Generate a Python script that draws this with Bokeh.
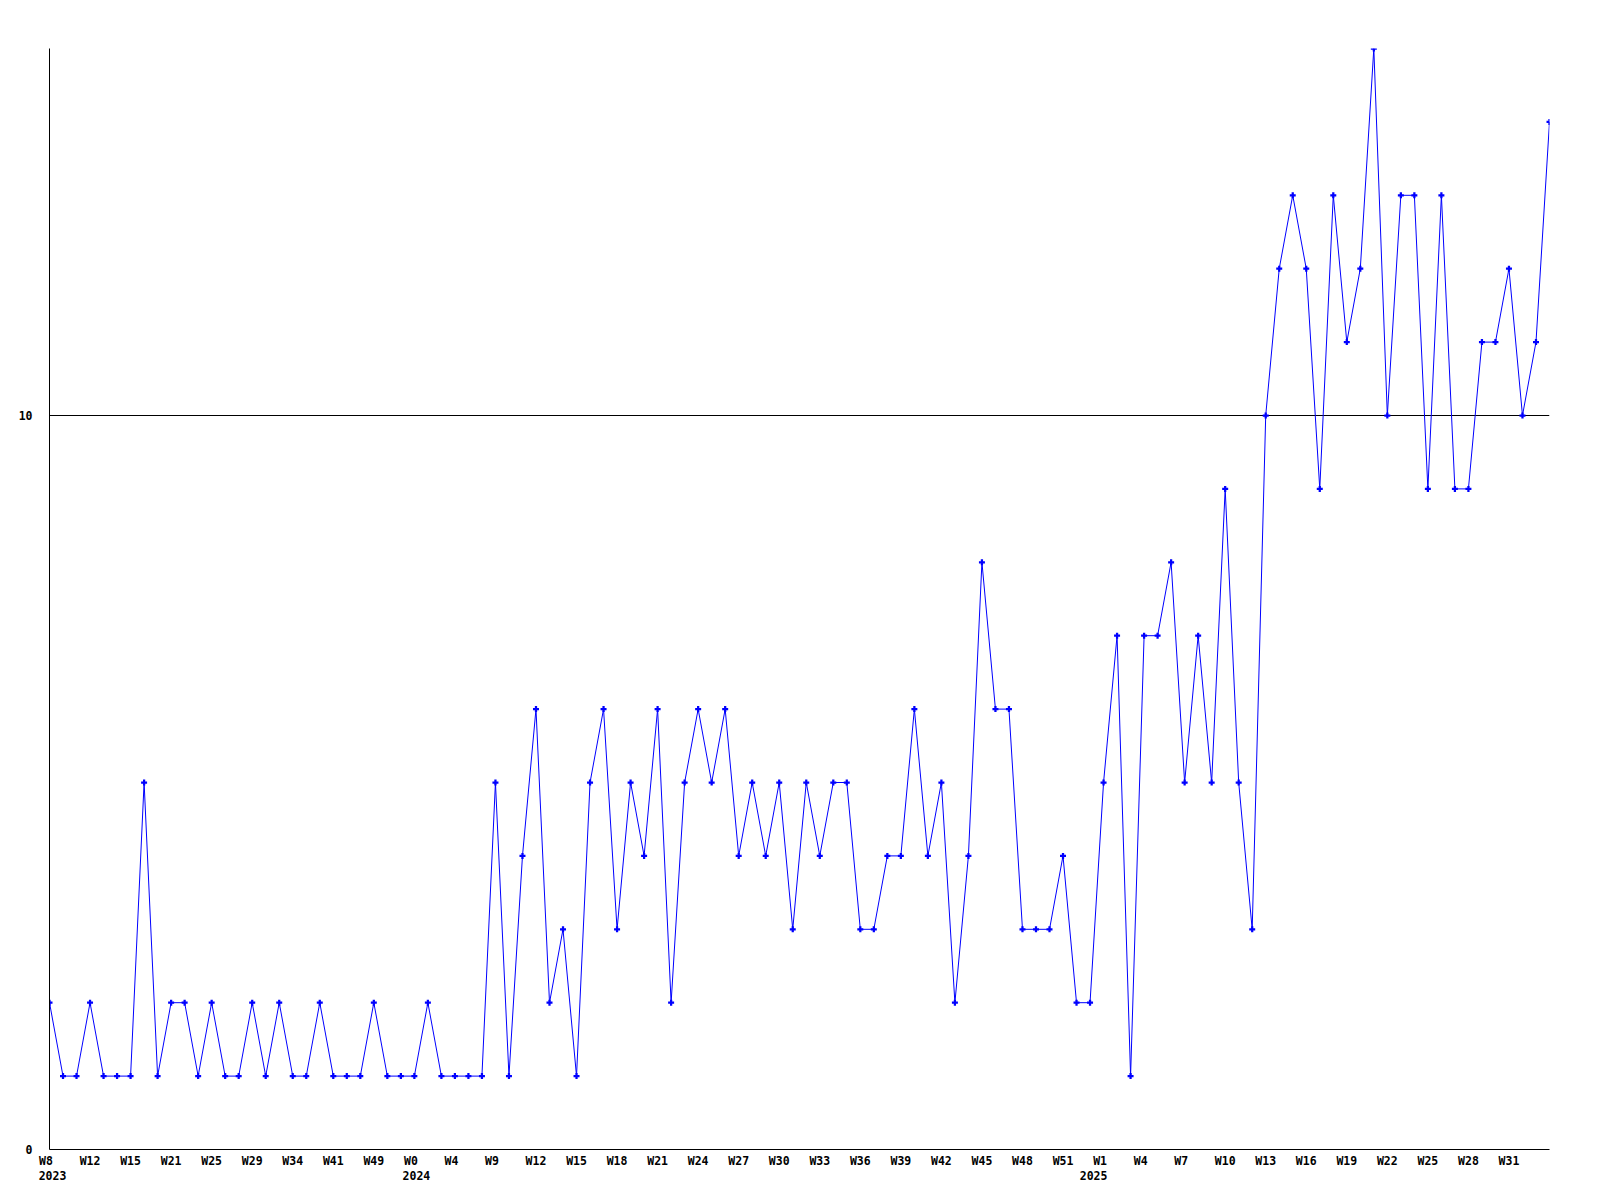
from bokeh.plotting import figure
from bokeh.models import Range1d, FixedTicker, LinearAxis
from bokeh.embed import file_html
from bokeh.resources import INLINE

# ---- data ----
values = [2, 1, 1, 2, 1, 1, 1, 5, 1, 2, 2, 1, 2, 1, 1, 2, 1, 2, 1, 1,
          2, 1, 1, 1, 2, 1, 1, 1, 2, 1, 1, 1, 1, 5, 1, 4, 6, 2, 3, 1,
          5, 6, 3, 5, 4, 6, 2, 5, 6, 5, 6, 4, 5, 4, 5, 3, 5, 4, 5, 5,
          3, 3, 4, 4, 6, 4, 5, 2, 4, 8, 6, 6, 3, 3, 3, 4, 2, 2, 5, 7,
          1, 7, 7, 8, 5, 7, 5, 9, 5, 3, 10, 12, 13, 12, 9, 13, 11, 12, 15, 10,
          13, 13, 9, 13, 9, 9, 11, 11, 12, 10, 11, 14]
week_labels = ["W8", "W12", "W15", "W21", "W25", "W29", "W34", "W41", "W49",
               "W0", "W4", "W9", "W12", "W15", "W18", "W21", "W24", "W27",
               "W30", "W33", "W36", "W39", "W42", "W45", "W48", "W51", "W1",
               "W4", "W7", "W10", "W13", "W16", "W19", "W22", "W25", "W28", "W31"]
label_every = 3
year_labels = ["2023", "2024", "2025"]
year_index = [0, 27, 78]
year_label_shift = [0.22, 0.15, -0.74]   # layout nudge (index units)
y_ticks = [0, 10]

x = list(range(len(values)))
FONT = "DejaVu Sans Mono"
FSIZE = "11.5px"
NB = "\u00a0"

p = figure(frame_width=1500, frame_height=1101,
           x_range=Range1d(0, len(values) - 1), y_range=Range1d(0, 15),
           output_backend="svg", toolbar_location=None,
           min_border_left=49, min_border_top=48, min_border_right=42,
           min_border_bottom=42, background_fill_color="white",
           border_fill_color="white")
p.outline_line_color = None

# x axis (weeks)
tick_pos = [i * label_every for i in range(len(week_labels))]
xa = p.xaxis[0]
xa.ticker = FixedTicker(ticks=tick_pos)
xa.major_label_overrides = {t: (lab + NB * (3 - len(lab))) for t, lab in zip(tick_pos, week_labels)}
xa.major_tick_out = 0
xa.major_tick_in = 0
xa.minor_tick_out = 0
xa.minor_tick_in = 0
xa.axis_line_color = "black"
xa.major_label_standoff = 4
xa.major_label_text_font = FONT
xa.major_label_text_font_style = "bold"
xa.major_label_text_font_size = FSIZE
xa.major_label_text_color = "black"

# year axis below
ypos = [i + s for i, s in zip(year_index, year_label_shift)]
ya2 = LinearAxis(ticker=FixedTicker(ticks=ypos),
                 major_label_overrides={t: lab for t, lab in zip(ypos, year_labels)})
ya2.axis_line_color = None
ya2.major_tick_out = 0
ya2.major_tick_in = 0
ya2.minor_tick_out = 0
ya2.minor_tick_in = 0
ya2.major_label_standoff = 0
ya2.major_label_text_font = FONT
ya2.major_label_text_font_style = "bold"
ya2.major_label_text_font_size = FSIZE
ya2.major_label_text_color = "black"
p.add_layout(ya2, "below")

# y axis
ya = p.yaxis[0]
ya.ticker = FixedTicker(ticks=y_ticks)
ya.major_tick_out = 0
ya.major_tick_in = 0
ya.minor_tick_out = 0
ya.minor_tick_in = 0
ya.axis_line_color = "black"
ya.major_label_standoff = 17
ya.major_label_text_font = FONT
ya.major_label_text_font_style = "bold"
ya.major_label_text_font_size = FSIZE
ya.major_label_text_color = "black"

p.xgrid.grid_line_color = None
p.ygrid.ticker = FixedTicker(ticks=[10])
p.ygrid.grid_line_color = "black"
p.ygrid.grid_line_alpha = 1.0
p.ygrid.grid_line_width = 1

p.line(x, values, line_color="#0000ff", line_width=1)
p.scatter(x, values, marker="plus", size=6, fill_color="#0000ff", line_color=None)

open("out.html", "w").write(file_html(p, INLINE))
